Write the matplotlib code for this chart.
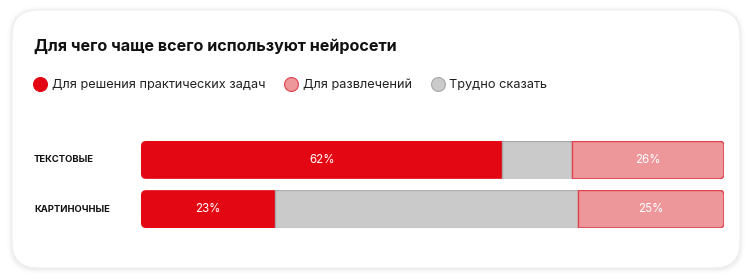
import matplotlib
matplotlib.use("Agg")
import matplotlib.pyplot as plt
from matplotlib.patches import FancyBboxPatch
from matplotlib.lines import Line2D
from matplotlib.transforms import IdentityTransform, blended_transform_factory

title = "Для чего чаще всего используют нейросети"
categories = ["ТЕКСТОВЫЕ", "КАРТИНОЧНЫЕ"]
series_names = ["Для решения практических задач", "Для развлечений", "Трудно сказать"]
practical = [62, 23]
unsure = [12, 52]
fun = [26, 25]

RED = "#E30613"
PINK = "#EE979B"
PINK_EDGE = "#E2414C"
GRAY = "#CACACA"
GRAY_EDGE = "#A8A8A8"

plt.rcParams["font.family"] = ["Inter", "DejaVu Sans"]

W, H = 751, 279
fig = plt.figure(figsize=(W / 100, H / 100), dpi=100)
fig.patch.set_facecolor("white")


def fx(px):
    return px / W


def fy(py):
    return 1 - py / H


# card with a soft shadow (pixel coordinates, origin bottom-left)
cx0, cy0, cx1, cy1 = 12, H - 268, 740, H - 10
for i, a in enumerate([0.02, 0.016, 0.012, 0.009, 0.006]):
    sh = FancyBboxPatch((cx0, cy0 - 1), cx1 - cx0, cy1 - cy0,
                        boxstyle=f"round,pad={i + 1},rounding_size={26 + i}",
                        transform=IdentityTransform(), facecolor="black",
                        edgecolor="none", alpha=a, zorder=0)
    fig.add_artist(sh)
card = FancyBboxPatch((cx0, cy0), cx1 - cx0, cy1 - cy0,
                      boxstyle="round,pad=0,rounding_size=26",
                      transform=IdentityTransform(), facecolor="white",
                      edgecolor="#ECECEC", linewidth=0.6, zorder=1)
fig.add_artist(card)

# title
fig.text(fx(34), fy(46), title, fontsize=11.6, fontweight="bold",
         color="#111111", va="center", ha="left", zorder=3)

# legend
handles = [
    Line2D([], [], linestyle="", marker="o", markersize=10,
           markerfacecolor=RED, markeredgecolor=RED, markeredgewidth=0.8),
    Line2D([], [], linestyle="", marker="o", markersize=10,
           markerfacecolor=PINK, markeredgecolor=PINK_EDGE, markeredgewidth=0.8),
    Line2D([], [], linestyle="", marker="o", markersize=10,
           markerfacecolor=GRAY, markeredgecolor=GRAY_EDGE, markeredgewidth=0.8),
]
leg = fig.legend(handles, series_names, loc="center left",
                 bbox_to_anchor=(fx(33), fy(85)), ncol=3, frameon=False,
                 fontsize=9.2, handlelength=1.1, handletextpad=0.35,
                 columnspacing=1.5, borderpad=0, borderaxespad=0)
for t in leg.get_texts():
    t.set_color("#222222")
leg.set_zorder(3)

# stacked bars
ax_l, ax_r, ax_t, ax_b = 141, 724, 141, 228
ax = fig.add_axes([fx(ax_l), fy(ax_b), (ax_r - ax_l) / W, (ax_b - ax_t) / H])
ax.set_zorder(2)
ax.patch.set_alpha(0)
h = 0.77
ax.set_xlim(0, 100)
ax.set_ylim(1 + h / 2, -h / 2)
ax.axis("off")

px_x = (ax_r - ax_l) / 100
px_y = (ax_b - ax_t) / (1 + h)
radius = 5

y = list(range(len(categories)))
left_gray = practical
left_pink = [p + u for p, u in zip(practical, unsure)]
totals = [p + u + f for p, u, f in zip(practical, unsure, fun)]

bars_red = ax.barh(y, practical, height=h, color=RED, edgecolor="none")
bars_gray = ax.barh(y, unsure, left=left_gray, height=h, color=GRAY,
                    edgecolor=GRAY_EDGE, linewidth=1.0)
bars_pink = ax.barh(y, fun, left=left_pink, height=h, color=PINK,
                    edgecolor=PINK_EDGE, linewidth=1.0)

for i in y:
    clip = FancyBboxPatch((0, i - h / 2), totals[i], h,
                          boxstyle=f"round,pad=0,rounding_size={radius / px_x}",
                          mutation_aspect=px_x / px_y, transform=ax.transData)
    for bars in (bars_red, bars_gray, bars_pink):
        bars[i].set_clip_path(clip)
    outline = FancyBboxPatch((0, i - h / 2), totals[i], h,
                             boxstyle=f"round,pad=0,rounding_size={radius / px_x}",
                             mutation_aspect=px_x / px_y, facecolor="none",
                             edgecolor=PINK_EDGE, linewidth=1.0,
                             transform=ax.transData)
    ax.add_patch(outline)
    outline.set_clip_path(bars_pink[i])

for i in y:
    ax.text(practical[i] / 2, i, f"{practical[i]}%", color="white",
            fontsize=8.3, ha="center", va="center")
    ax.text(left_pink[i] + fun[i] / 2, i, f"{fun[i]}%", color="white",
            fontsize=8.3, ha="center", va="center")

# category labels
lab_tr = blended_transform_factory(fig.transFigure, ax.transData)
for i, c in enumerate(categories):
    ax.text(fx(34), i, c, transform=lab_tr, fontsize=6.8, fontweight="bold",
            color="#111111", ha="left", va="center")

fig.savefig("out.png", dpi=100, facecolor="white")
